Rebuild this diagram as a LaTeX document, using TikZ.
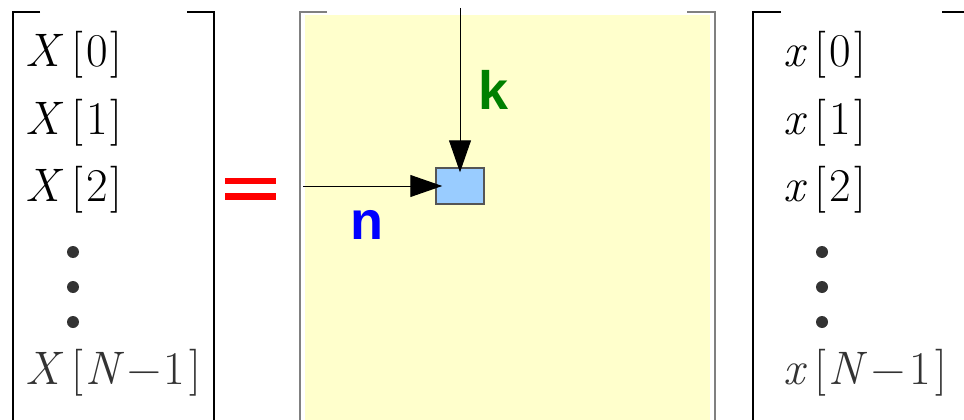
\documentclass[tikz,border=0pt]{standalone}
\usepackage{fontspec}
\newfontfamily\arialfont{Liberation Sans}
\usetikzlibrary{arrows.meta}
\definecolor{padyellow}{HTML}{FFFFCC}
\definecolor{cellblue}{HTML}{99CCFF}
\definecolor{cellborder}{HTML}{555555}
\definecolor{brgray}{HTML}{808080}
\definecolor{dotgray}{HTML}{333333}
\definecolor{kgreen}{HTML}{008000}
\definecolor{nblue}{HTML}{0000FF}
\definecolor{eqred}{HTML}{FF0000}
\tikzset{
  vecentry/.style={anchor=west, inner sep=0pt, font=\rmfamily\fontsize{47}{56}\selectfont},
  brack/.style={line width=1.3pt, black},
  dotmark/.style={fill=dotgray},
  idxlabel/.style={inner sep=0pt, font=\arialfont\bfseries\fontsize{54}{60}\selectfont},
  cell/.style={draw=cellborder, line width=1.5pt, fill=cellblue, minimum width=48pt, minimum height=36pt, inner sep=0pt},
  idxarrow/.style={line width=1pt, -{Triangle[length=32pt,width=22pt]}}
}
\newcommand{\vx}[1]{\textit{#1}}
\begin{document}
\begin{tikzpicture}[x=1pt,y=-1pt]
\useasboundingbox (0,0) rectangle (964,420);
% left vector
\draw[brack] (40,12) -- (13,12) -- (13,420);
\draw[brack] (187,12) -- (214,12) -- (214,420);
\node[vecentry] (X0) at (25,55) {\vx{X}\kern8pt[\kern3pt 0\kern3pt]};
\node[vecentry] (X1) at (25,123) {\vx{X}\kern8pt[\kern3pt 1\kern3pt]};
\node[vecentry] (X2) at (25,190) {\vx{X}\kern8pt[\kern3pt 2\kern3pt]};
\fill[dotmark] (73,252) circle (6);
\fill[dotmark] (73,287) circle (6);
\fill[dotmark] (73,322) circle (6);
\node[vecentry, text=dotgray] (XN) at (25,373) {\vx{X}\kern8pt[\kern2pt\vx{N}\kern3pt−\kern3pt 1\kern4pt]};
% equals
\fill[eqred] (225,178) rectangle (276,184);
\fill[eqred] (225,193) rectangle (276,200);
% matrix
\fill[padyellow] (305,15) rectangle (710,420);
\draw[line width=1.5pt, brgray] (327,12) -- (300,12) -- (300,420);
\draw[line width=1.5pt, brgray] (687,12) -- (715,12) -- (715,420);
\node[cell] (cellkn) at (460,186) {};
\coordinate (ktop) at (460,8);
\coordinate (nleft) at (303,186);
\draw[idxarrow, shorten >=-5pt] (ktop) -- (cellkn.north);
\draw[idxarrow, shorten >=-7pt] (nleft) -- (cellkn.west);
\node[idxlabel, text=kgreen] (klab) at (494,90) {k};
\node[idxlabel, text=nblue] (nlab) at (367,225) {n};
% right vector
\draw[brack] (781,12) -- (753,12) -- (753,420);
\draw[brack] (942,12) -- (964,12);
\node[vecentry] (x0) at (783,55) {\vx{x}\kern8pt[\kern3pt 0\kern3pt]};
\node[vecentry] (x1) at (783,123) {\vx{x}\kern8pt[\kern3pt 1\kern3pt]};
\node[vecentry] (x2) at (783,190) {\vx{x}\kern8pt[\kern3pt 2\kern3pt]};
\fill[dotmark] (822,252) circle (6);
\fill[dotmark] (822,287) circle (6);
\fill[dotmark] (822,322) circle (6);
\node[vecentry, text=dotgray] (xN) at (783,373) {\vx{x}\kern8pt[\kern2pt\vx{N}\kern4pt−\kern4pt 1\kern4pt]};
\end{tikzpicture}
\end{document}
